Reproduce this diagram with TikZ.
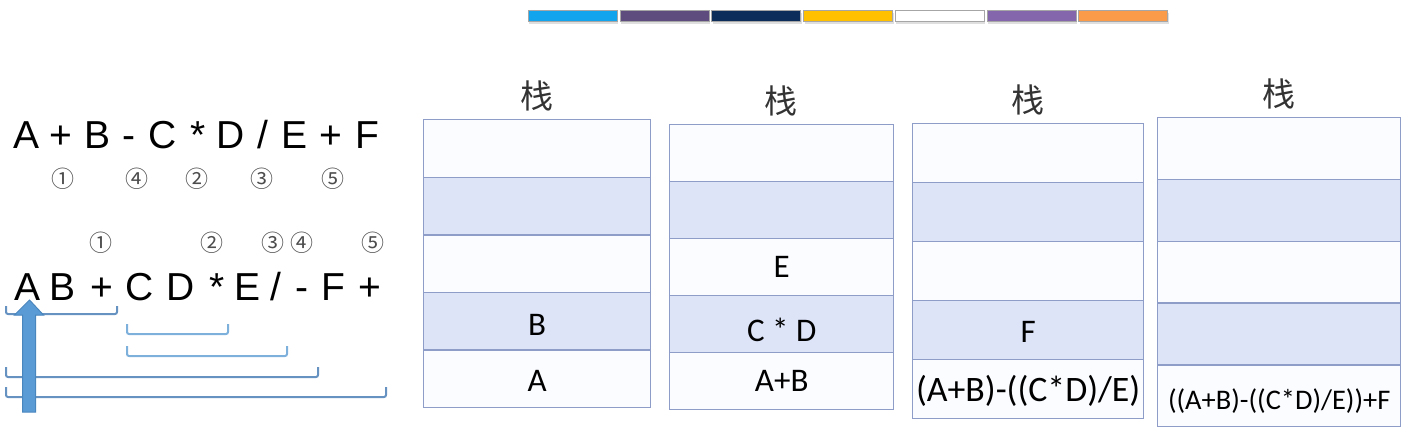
\documentclass[tikz,border=0pt]{standalone}
\usepackage{fontspec}
\setmainfont{Liberation Sans}
\newfontfamily\cellfont{Carlito}
\newfontfamily\cjk{Noto Sans CJK SC}
\usetikzlibrary{shadows}
\definecolor{stackW}{HTML}{FBFCFF}
\definecolor{stackB}{HTML}{DDE4F8}
\definecolor{stackLine}{HTML}{8E9CC8}
\definecolor{spanLight}{HTML}{7EB0DC}
\definecolor{spanDark}{HTML}{6592C0}
\definecolor{arrowFill}{HTML}{5B9BD5}
\definecolor{arrowLine}{HTML}{4A86BE}
\definecolor{barA}{HTML}{12A4EC}
\definecolor{barB}{HTML}{5E4C7E}
\definecolor{barC}{HTML}{0C2C5A}
\definecolor{barD}{HTML}{FFC000}
\definecolor{barE}{HTML}{FFFFFF}
\definecolor{barF}{HTML}{8366AC}
\definecolor{barG}{HTML}{F99B48}
\tikzset{%
  % stack cells and their texts
        cell/.style = {draw=stackLine, line width=0.7pt, inner sep=0pt,
                       anchor=north west},
       cellW/.style = {cell, fill=stackW},
       cellB/.style = {cell, fill=stackB},
     content/.style = {inner sep=0pt, font=\cellfont\fontsize{16.5}{18}\selectfont},
  stacktitle/.style = {inner sep=0pt, text=black!80,
                       font=\cjk\fontsize{16.5}{18}\selectfont},
  % expressions
       token/.style = {anchor=base, inner sep=0pt,
                       font=\fontsize{19.5}{22}\selectfont},
       order/.style = {inner sep=0pt, text=black!70,
                       font=\cjk\fontsize{11.5}{12}\selectfont},
        span/.style = {line width=1pt, rounded corners=1pt},
     colorbar/.style = {draw=black!35, line width=0.4pt, anchor=west,
                       minimum width=44.5pt, minimum height=5.5pt, inner sep=0pt,
                       drop shadow={shadow xshift=0.5pt, shadow yshift=-1.5pt,
                                    opacity=0.25}},
}
\begin{document}
\begin{tikzpicture}[x=0.5pt, y=-0.5pt]
  \useasboundingbox (0,0) rectangle (1424,446);
  % colour bar on top
  \foreach \c [count=\i] in {barA,barB,barC,barD,barE,barF,barG}
    \node (bar\i) [colorbar, fill=\c] at ({528+(\i-1)*91.7}, 15.5) {};
  % infix expression
  \foreach \x/\t [count=\i] in {27/A, 61/+, 98/B, 129/-, 163/C, 198/*,
                                231/D, 263/{/}, 295/E, 331/+, 367/F}
    \node (in\i) [token] at (\x, 148) {\t};
  \node (inOne)   [order] at (63, 179)  {①};
  \node (inFour)  [order] at (137, 179) {④};
  \node (inTwo)   [order] at (197, 179) {②};
  \node (inThree) [order] at (262, 179) {③};
  \node (inFive)  [order] at (333, 179) {⑤};
  % postfix expression
  \foreach \x/\t [count=\i] in {28/A, 63/B, 102/+, 140/C, 181/D, 217/*,
                                248/E, 276/{/}, 302/-, 333/F, 370/+}
    \node (post\i) [token] at (\x, 300) {\t};
  \node (postOne)   [order] at (101, 243) {①};
  \node (postTwo)   [order] at (212, 243) {②};
  \node (postThree) [order] at (273, 243) {③};
  \node (postFour)  [order] at (302, 243) {④};
  \node (postFive)  [order] at (373, 243) {⑤};
  % spans under the postfix expression
  \draw[span, spanDark]  (6,306) -- (6,314) -- (117,314) -- (117,306);
  \draw[span, spanLight] (127,324) -- (127,334) -- (228,334) -- (228,324);
  \draw[span, spanLight] (127,346) -- (127,356) -- (287,356) -- (287,346);
  \draw[span, spanDark]  (6,367) -- (6,377) -- (318,377) -- (318,367);
  \draw[span, spanDark]  (6,387) -- (6,397) -- (386,397) -- (386,387);
  % scanning arrow
  \draw[fill=arrowFill, draw=arrowLine, line width=0.5pt]
    (22.5,412) -- (22.5,315) -- (14.5,315) -- (29.5,300) -- (43.5,315)
    -- (35.5,315) -- (35.5,412) -- cycle;
  % the four stacks
  \foreach \s/\lx/\ty/\w/\h in {1/423/119/227/57.6, 2/669/124/224/57,
                                3/912/123/231/59, 4/1157/117/243/61.8}{
    \node (title\s) [stacktitle] at ({\lx+\w/2}, {\ty-23}) {栈};
    \foreach \r/\sty in {1/cellW, 2/cellB, 3/cellW, 4/cellB, 5/cellW}
      \node (st\s\r) [\sty, minimum width={\w*0.5pt},
                     minimum height={\h*0.5pt}] at (\lx, {\ty+(\r-1)*\h}) {};
  }
  % stack contents
  \node (valB)  [content, yshift=-2pt] at (st14) {B};
  \node (valA)  [content, yshift=-1pt] at (st15) {A};
  \node (valE)  [content] at (st23) {E};
  \node (valCD) [content, yshift=-3pt] at (st24) {C * D};
  \node (valAB) [content] at (st25) {A+B};
  \node (valF)  [content, yshift=-1pt] at (st34) {F};
  \node (valSub) [content, yshift=-1pt, font=\cellfont\fontsize{17.9}{19}\selectfont]
    at (st35) {(A+B)-((C*D)/E)};
  \node (valAdd) [content, yshift=-2.5pt, font=\cellfont\fontsize{14.2}{16}\selectfont]
    at (st45) {((A+B)-((C*D)/E))+F};
\end{tikzpicture}
\end{document}
